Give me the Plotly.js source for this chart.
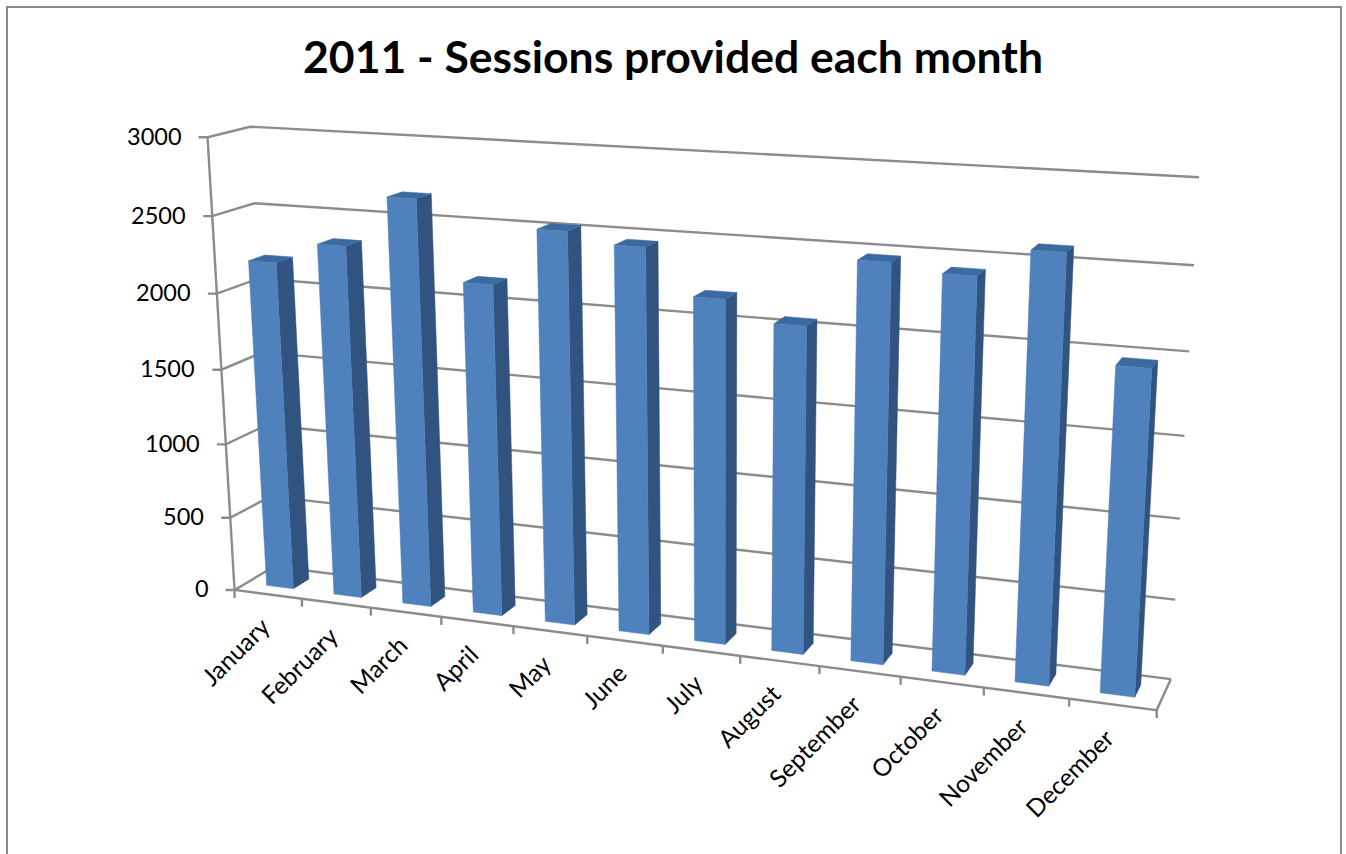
<!DOCTYPE html>
<html>
<head>
<meta charset="utf-8">
<script src="https://cdn.plot.ly/plotly-3.0.1.min.js"></script>
<style>html,body{margin:0;padding:0;background:#fff;overflow:hidden}#chart{width:1346px;height:854px}</style>
</head>
<body>
<div id="chart"></div>
<script>
// Monthly figures
const months = ['January','February','March','April','May','June','July','August','September','October','November','December'];
const sessions = [2195,2335,2665,2160,2525,2460,2180,2055,2470,2425,2595,1970];
const valueTicks = [0,500,1000,1500,2000,2500,3000];
const valueMax = 3000;

// Calibration of the oblique view: [month position 0-12, depth 0-1, value, screen x, screen y]
const viewAnchors = [
  [0,0,0,234.3,590],[12,0,0,1156.7,710],[0,1,0,274.5,566.5],[12,1,0,1170.7,679.3],
  [0,0,3000,207.7,137.3],[0,1,3000,250,126.7],[12,1,3000,1199,177.3],
  [0,0,2500,212.3,216],[0,1,2500,254.3,203.3],[12,1,2500,1194,265.3],[12,1,2000,1189.3,351.3]
];

// Least-squares fit of a 3x4 projective camera
function solve(A, b) {
  const n = b.length;
  for (let c = 0; c < n; c++) {
    let p = c;
    for (let r = c + 1; r < n; r++) if (Math.abs(A[r][c]) > Math.abs(A[p][c])) p = r;
    [A[c], A[p]] = [A[p], A[c]]; [b[c], b[p]] = [b[p], b[c]];
    for (let r = c + 1; r < n; r++) {
      const f = A[r][c] / A[c][c];
      for (let k = c; k < n; k++) A[r][k] -= f * A[c][k];
      b[r] -= f * b[c];
    }
  }
  const x = new Array(n).fill(0);
  for (let r = n - 1; r >= 0; r--) {
    let s = b[r];
    for (let k = r + 1; k < n; k++) s -= A[r][k] * x[k];
    x[r] = s / A[r][r];
  }
  return x;
}
function fitCamera(anchors) {
  const rows = [], rhs = [];
  anchors.forEach(([u, v, h, sx, sy]) => {
    const U = u / 12, H = h / valueMax, X = sx / 1000, Y = sy / 1000;
    rows.push([U, v, H, 1, 0, 0, 0, 0, -X * U, -X * v, -X * H]); rhs.push(X);
    rows.push([0, 0, 0, 0, U, v, H, 1, -Y * U, -Y * v, -Y * H]); rhs.push(Y);
  });
  const N = 11;
  const AtA = Array.from({length: N}, () => new Array(N).fill(0));
  const Atb = new Array(N).fill(0);
  rows.forEach((r, i) => {
    for (let a = 0; a < N; a++) {
      Atb[a] += r[a] * rhs[i];
      for (let c = 0; c < N; c++) AtA[a][c] += r[a] * r[c];
    }
  });
  return solve(AtA, Atb);
}
const cam = fitCamera(viewAnchors);
function project(u, v, h) {
  const U = u / 12, H = h / valueMax;
  const w = cam[8] * U + cam[9] * v + cam[10] * H + 1;
  return [1000 * (cam[0] * U + cam[1] * v + cam[2] * H + cam[3]) / w,
          1000 * (cam[4] * U + cam[5] * v + cam[6] * H + cam[7]) / w];
}

const traces = [];
const lineStyle = {color: '#8c8c8c', width: 2.4};
function polyline(segments) {
  const x = [], y = [];
  segments.forEach(seg => { seg.forEach(p => { x.push(p[0]); y.push(p[1]); }); x.push(null); y.push(null); });
  traces.push({type: 'scatter', mode: 'lines', x, y, line: lineStyle, hoverinfo: 'skip', showlegend: false});
}

// Walls, floor and tick marks
const frame = [];
valueTicks.forEach(t => {
  const a = project(0, 0, t);
  frame.push([[a[0] - 9, a[1]], a, project(0, 1, t), project(12, 1, t)]);
});
frame.push([project(0, 0, 0), project(0, 0, valueMax)]);
frame.push([project(0, 0, 0), project(12, 0, 0), project(12, 1, 0)]);
for (let i = 0; i <= 12; i++) {
  const a = project(i, 0, 0);
  frame.push([a, [a[0], a[1] + 8]]);
}
polyline(frame);

// Columns: front, side and top faces
const barWidth = 0.4, depth0 = 0.3, depth1 = 0.7;
function face(pts, color) {
  traces.push({type: 'scatter', mode: 'lines', fill: 'toself', fillcolor: color,
    x: pts.map(p => p[0]).concat(pts[0][0]), y: pts.map(p => p[1]).concat(pts[0][1]),
    line: {width: 0.5, color}, hoverinfo: 'skip', showlegend: false});
}
sessions.forEach((val, i) => {
  const u0 = i + 0.5 - barWidth / 2, u1 = i + 0.5 + barWidth / 2;
  face([project(u1, depth0, 0), project(u1, depth1, 0), project(u1, depth1, val), project(u1, depth0, val)], '#30537f');
  face([project(u0, depth0, val), project(u1, depth0, val), project(u1, depth1, val), project(u0, depth1, val)], '#3b6aa0');
  face([project(u0, depth0, 0), project(u1, depth0, 0), project(u1, depth0, val), project(u0, depth0, val)], '#4f81bd');
});

// Text labels
const annotations = [];
valueTicks.forEach(t => {
  const a = project(0, 0, t);
  annotations.push({x: a[0] - 24, y: a[1] - 1.5, xref: 'x', yref: 'y', text: String(t), showarrow: false,
    xanchor: 'right', yanchor: 'middle', font: {family: 'Lato', size: 23.5, color: '#000'}});
});
months.forEach((m, i) => {
  const a = project(i + 0.5, 0, 0);
  annotations.push({x: a[0] + 9.5, y: a[1] + 15, xref: 'x', yref: 'y', text: m, showarrow: false, textangle: -45,
    xanchor: 'right', yanchor: 'top', font: {family: 'Lato', size: 24.5, color: '#000'}});
});

const layout = {
  width: 1346, height: 854, margin: {l: 0, r: 0, t: 0, b: 0},
  paper_bgcolor: '#fff', plot_bgcolor: '#fff', showlegend: false,
  title: {text: '<b>2011 - Sessions provided each month</b>', x: 0.5, xanchor: 'center', y: 0.933, yanchor: 'middle',
    font: {family: 'Lato', size: 44.5, color: '#000'}},
  xaxis: {range: [0, 1346], visible: false, fixedrange: true},
  yaxis: {range: [854, 0], visible: false, fixedrange: true},
  annotations,
  shapes: [{type: 'rect', xref: 'x', yref: 'y', x0: 7, y0: 7, x1: 1341, y1: 880, layer: 'below',
    line: {color: '#8a8a8a', width: 2}}]
};
Plotly.newPlot('chart', traces, layout, {displayModeBar: false, staticPlot: true});
</script>
</body>
</html>
